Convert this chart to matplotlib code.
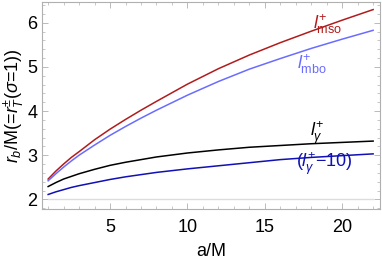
import numpy as np
import matplotlib.pyplot as plt
from matplotlib.ticker import MultipleLocator

plt.rcParams['font.family'] = ['Liberation Sans', 'DejaVu Sans']
plt.rcParams['mathtext.fontset'] = 'custom'
plt.rcParams['mathtext.rm'] = 'Liberation Sans'
plt.rcParams['mathtext.it'] = 'Liberation Sans:italic'

# a/M values and curves
a = [1, 1.5, 2, 2.5, 3, 4, 5, 6, 7, 8, 10, 12, 14, 16, 18, 20, 22]
l_mso = [2.46, 2.64, 2.80, 2.95, 3.08, 3.35, 3.59, 3.81, 4.02, 4.22, 4.61, 4.96, 5.27, 5.55, 5.81, 6.06, 6.30]
l_mbo = [2.42, 2.58, 2.73, 2.87, 3.00, 3.23, 3.45, 3.65, 3.84, 4.02, 4.36, 4.67, 4.95, 5.19, 5.42, 5.63, 5.83]
l_gam = [2.29, 2.38, 2.46, 2.52, 2.58, 2.68, 2.77, 2.84, 2.90, 2.96, 3.05, 3.12, 3.18, 3.22, 3.26, 3.29, 3.32]
l_gam10 = [2.11, 2.17, 2.22, 2.27, 2.31, 2.38, 2.45, 2.51, 2.56, 2.61, 2.69, 2.76, 2.83, 2.90, 2.95, 2.99, 3.03]
ref_a = [1, 22]
ref_line = [2.0, 2.0]

fig = plt.figure(figsize=(3.82, 2.60), dpi=100)
ax = fig.add_axes([0.109, 0.196, 0.886, 0.796])

ax.plot(ref_a, ref_line, color='#dcdcdc', lw=1.0)
ax.plot(a, l_mso, color='#b01c1c', lw=1.1)
ax.plot(a, l_mbo, color='#6a6cff', lw=1.1)
ax.plot(a, l_gam, color='black', lw=1.1)
ax.plot(a, l_gam10, color='#1010b4', lw=1.1)

ax.text(18.1, 5.97, r'$l^{+}_{\rm mso}$', color='#b01c1c', fontsize=13, ha='left', va='center')
ax.text(17.1, 5.07, r'$l^{+}_{\rm mbo}$', color='#6a6cff', fontsize=13, ha='left', va='center')
ax.text(17.9, 3.52, r'$l^{+}_{\gamma}$', color='black', fontsize=13, ha='left', va='center')
ax.text(17.0, 2.82, r'($l^{+}_{\gamma}$$-$10)', color='#1010b4', fontsize=13, ha='left', va='center')

ax.set_xlim(0.58, 22.45)
ax.set_ylim(1.78, 6.47)
ax.xaxis.set_major_locator(MultipleLocator(5))
ax.xaxis.set_minor_locator(MultipleLocator(1))
ax.yaxis.set_major_locator(MultipleLocator(1))
ax.yaxis.set_minor_locator(MultipleLocator(0.2))
ax.tick_params(which='both', direction='in', top=True, right=True,
               color='#b0b0b0', labelsize=13)
ax.tick_params(which='major', length=4, width=0.6)
ax.tick_params(which='minor', length=2, width=0.5)
ax.tick_params(axis='x', pad=7)
ax.tick_params(axis='y', pad=3)
for s in ax.spines.values():
    s.set_color('#b0b0b0')
    s.set_linewidth(0.8)

ax.set_xlabel('a/M', fontsize=13, labelpad=5)
ax.set_ylabel(r'$r_b$/M(=$r^{\pm}_{T}$($\sigma$=1))', fontsize=13, labelpad=1)

fig.savefig('out.png', dpi=100)
